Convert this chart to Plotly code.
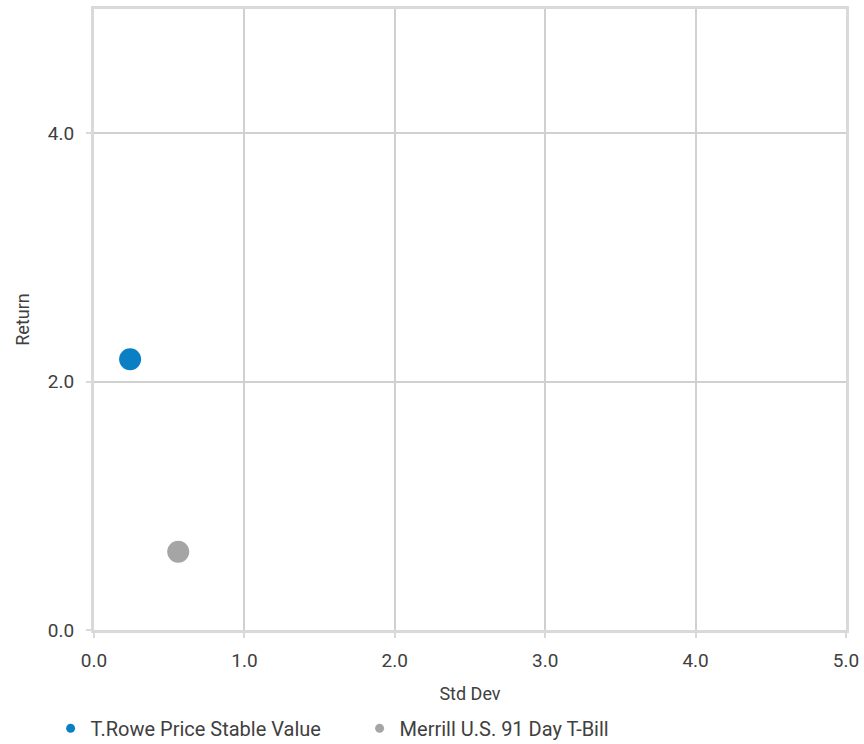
import plotly.graph_objects as go

series_names = ["T.Rowe Price Stable Value", "Merrill U.S. 91 Day T-Bill"]
std_dev = [0.24, 0.56]
returns = [2.18, 0.63]
colors = ["#0a7fc4", "#a5a5a5"]

x_ticks = [0, 1, 2, 3, 4, 5]
x_tick_labels = ["0.0", "1.0", "2.0", "3.0", "4.0", "5.0"]
y_ticks = [0, 2, 4]
y_tick_labels = ["0.0", "2.0", "4.0"]

FONT = "Roboto, sans-serif"
TXT = "#404040"

fig = go.Figure()
for name, x, y, c in zip(series_names, std_dev, returns, colors):
    fig.add_trace(go.Scatter(x=[x], y=[y], mode="markers", name=name,
                             marker=dict(size=22, color=c), showlegend=False))
    fig.add_trace(go.Scatter(x=[None], y=[None], mode="markers", name=name,
                             marker=dict(size=9, color=c), showlegend=True))

axis_common = dict(showline=True, mirror=True, linecolor="#d9d9d9", linewidth=3,
                   showgrid=True, gridcolor="#d0d0d0", gridwidth=2,
                   ticks="outside", ticklen=5, tickcolor="#d9d9d9", tickwidth=2,
                   zeroline=False, tickfont=dict(family=FONT, size=19, color=TXT))

fig.update_xaxes(range=[0, 5], tickvals=x_ticks, ticktext=x_tick_labels,
                 ticklabelstandoff=6,
                 title=dict(text="Std Dev", font=dict(family=FONT, size=18, color=TXT), standoff=17),
                 **axis_common)
fig.update_yaxes(range=[0, 5], tickvals=y_ticks, ticktext=y_tick_labels,
                 ticklabelstandoff=8,
                 title=dict(text="Return", font=dict(family=FONT, size=18, color=TXT), standoff=14),
                 **axis_common)

fig.update_layout(
    width=864, height=744,
    margin=dict(l=94, r=18, t=9, b=114, autoexpand=False),
    paper_bgcolor="white", plot_bgcolor="white",
    font=dict(family=FONT, size=18, color=TXT),
    legend=dict(orientation="h", x=-0.0577, y=-0.127, xanchor="left", yanchor="top",
                font=dict(family=FONT, size=20, color=TXT), itemwidth=30,
                tracegroupgap=0, entrywidth=264),
)

fig.write_html("out.html", config={"displayModeBar": False},
               post_script="document.body.style.margin='0';document.body.style.overflow='hidden';")
